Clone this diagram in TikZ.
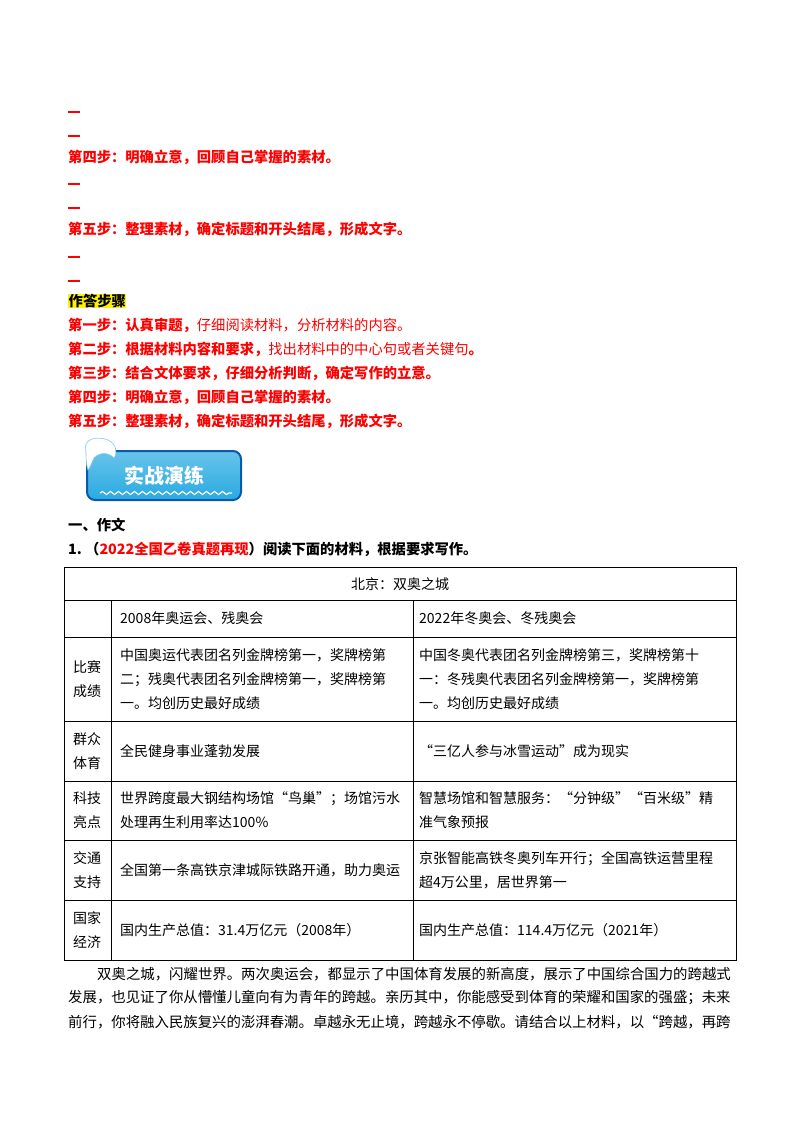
\documentclass[tikz,border=0pt]{standalone}
\usepackage{fontspec}
\setmainfont{Noto Sans CJK SC}
\usetikzlibrary{decorations.pathmorphing}
\definecolor{rd}{RGB}{255,0,0}
\definecolor{lb}{RGB}{40,170,225}
\definecolor{db}{RGB}{10,90,170}
\begin{document}
\begin{tikzpicture}[x=1pt,y=-1pt,
  stp/.style={anchor=west,inner sep=0,text=rd,font=\fontsize{14.3}{14}\selectfont\bfseries},
  dsh/.style={anchor=west,inner sep=0,text=rd},
  cell/.style={anchor=west,inner sep=0,align=left,font=\fontsize{14}{24}\selectfont},
  lab/.style={anchor=center,inner sep=0,align=center,font=\fontsize{14}{24}\selectfont},
  par/.style={anchor=west,inner sep=0,font=\fontsize{14.4}{14}\selectfont},
  tl/.style={line width=0.8pt}]
\useasboundingbox (0,0) rectangle (800,1132);
\fill[white] (0,0) rectangle (800,1132);
\node[dsh] (d1) at (68,112) {\rule{12pt}{1.3pt}};
\node[dsh] (d2) at (68,136) {\rule{12pt}{1.3pt}};
\node[stp] (s4a) at (68,157) {第四步：明确立意，回顾自己掌握的素材。};
\node[dsh] (d3) at (68,184) {\rule{12pt}{1.3pt}};
\node[dsh] (d4) at (68,208) {\rule{12pt}{1.3pt}};
\node[stp] (s5a) at (68,229) {第五步：整理素材，确定标题和开头结尾，形成文字。};
\node[dsh] (d5) at (68,257) {\rule{12pt}{1.3pt}};
\node[dsh] (d6) at (68,281) {\rule{12pt}{1.3pt}};
\node[anchor=west,inner sep=0.5,fill=yellow,font=\fontsize{14.3}{14}\selectfont\bfseries] (zd) at (68,301) {作答步骤};
\node[stp] (s1) at (68,325) {第一步：认真审题，\mdseries 仔细阅读材料，分析材料的内容。};
\node[stp] (s2) at (68,349) {第二步：根据材料内容和要求，\mdseries 找出材料中的中心句或者关键句\bfseries 。};
\node[stp] (s3) at (68,373) {第三步：结合文体要求，仔细分析判断，确定写作的立意。};
\node[stp] (s4) at (68,397) {第四步：明确立意，回顾自己掌握的素材。};
\node[stp] (s5) at (68,421) {第五步：整理素材，确定标题和开头结尾，形成文字。};
% logo
\shade[top color=lb!70!white,bottom color=lb,draw=db,line width=2pt,rounded corners=8pt] (87,451) rectangle (241,500);
\draw[white,line width=1.2pt,decorate,decoration={snake,amplitude=1.5pt,segment length=8pt}] (100,493) -- (232,493);
\fill[white,draw=lb!60,line width=0.6pt] (86,452) .. controls (82,440) and (95,435) .. (108,440) .. controls (116,444) and (118,452) .. (114,458) .. controls (108,452) and (100,452) .. (94,458) .. controls (92,462) and (90,468) .. (88,470) .. controls (86,464) and (86,458) .. (86,452) -- cycle;
\node[inner sep=0,text=white,font=\fontsize{20}{20}\selectfont\bfseries] (logo) at (164,476) {实战演练};
\node[anchor=west,inner sep=0,font=\fontsize{14.3}{14}\selectfont\bfseries] (h1) at (68,525) {一、作文};
\node[anchor=west,inner sep=0,font=\fontsize{14.3}{14}\selectfont\bfseries] (h2) at (68,549) {1.\ （\textcolor{rd}{2022全国乙卷真题再现}）阅读下面的材料，根据要求写作。};
% table
\draw[tl] (64,567) rectangle (736,960);
\foreach \y in {600,637,721,781,840,900} \draw[tl] (64,\y) -- (736,\y);
\draw[tl] (111,600) -- (111,960);
\draw[tl] (413,600) -- (413,960);
\node[lab] (t0) at (400,584) {北京：双奥之城};
\node[cell] (a0) at (120,618) {2008年奥运会、残奥会};
\node[cell] (b0) at (419,618) {2022年冬奥会、冬残奥会};
\node[lab] (l1) at (87,679) {比赛\\成绩};
\node[cell] (a1) at (120,679) {中国奥运代表团名列金牌榜第一，奖牌榜第\\二；残奥代表团名列金牌榜第一，奖牌榜第\\一。均创历史最好成绩};
\node[cell] (b1) at (419,679) {中国冬奥代表团名列金牌榜第三，奖牌榜第十\\一：冬残奥代表团名列金牌榜第一，奖牌榜第\\一。均创历史最好成绩};
\node[lab] (l2) at (87,751) {群众\\体育};
\node[cell] (a2) at (120,751) {全民健身事业蓬勃发展};
\node[cell] (b2) at (419,751) {“三亿人参与冰雪运动”成为现实};
\node[lab] (l3) at (87,810) {科技\\亮点};
\node[cell] (a3) at (120,810) {世界跨度最大钢结构场馆“鸟巢”；场馆污水\\处理再生利用率达100\%};
\node[cell] (b3) at (419,810) {智慧场馆和智慧服务：“分钟级”“百米级”精\\准气象预报};
\node[lab] (l4) at (87,870) {交通\\支持};
\node[cell] (a4) at (120,870) {全国第一条高铁京津城际铁路开通，助力奥运};
\node[cell] (b4) at (419,870) {京张智能高铁冬奥列车开行；全国高铁运营里程\\超4万公里，居世界第一};
\node[lab] (l5) at (87,930) {国家\\经济};
\node[cell] (a5) at (120,930) {国内生产总值：31.4万亿元（2008年）};
\node[cell] (b5) at (419,930) {国内生产总值：114.4万亿元（2021年）};
\node[par] (p1) at (97,974) {双奥之城，闪耀世界。两次奥运会，都显示了中国体育发展的新高度，展示了中国综合国力的跨越式};
\node[par] (p2) at (68,998) {发展，也见证了你从懵懂儿童向有为青年的跨越。亲历其中，你能感受到体育的荣耀和国家的强盛；未来};
\node[par] (p3) at (68,1022) {前行，你将融入民族复兴的澎湃春潮。卓越永无止境，跨越永不停歇。请结合以上材料，以“跨越，再跨};
\end{tikzpicture}
\end{document}
